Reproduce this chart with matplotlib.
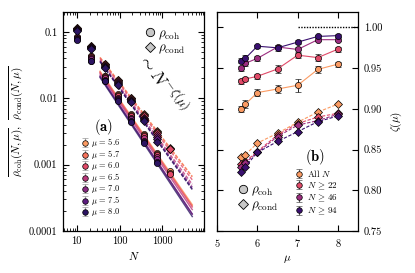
import numpy as np
import matplotlib
matplotlib.use("Agg")
import matplotlib.pyplot as plt
from matplotlib.lines import Line2D
from matplotlib.ticker import FixedLocator, NullFormatter, LogLocator

plt.rcParams['font.family'] = 'serif'
plt.rcParams['font.serif'] = ['cmr10', 'DejaVu Serif']
plt.rcParams['mathtext.fontset'] = 'cm'
plt.rcParams['axes.unicode_minus'] = False
plt.rcParams['axes.formatter.use_mathtext'] = True

# ---------------- data ----------------
mus = [5.6, 5.7, 6.0, 6.5, 7.0, 7.5, 8.0]
mu_labels = [r'$\mu\,=\,5.6$', r'$\mu\,=\,5.7$', r'$\mu\,=\,6.0$', r'$\mu\,=\,6.5$',
             r'$\mu\,=\,7.0$', r'$\mu\,=\,7.5$', r'$\mu\,=\,8.0$']
mu_colors = ['#fb9b63', '#f6735c', '#e04a68', '#b8377a', '#8a2a82', '#5c1c7e', '#2c1462']
Ns = [10, 22, 46, 94, 190, 382, 766, 1534]

coh = [
    [0.085, 0.044, 0.022, 0.0115, 0.0058, 0.0029, 0.0015, 0.00079],
    [0.084, 0.043, 0.0215, 0.0112, 0.0056, 0.0028, 0.00145, 0.00076],
    [0.083, 0.042, 0.021, 0.0108, 0.0054, 0.0027, 0.0014, 0.00073],
    [0.081, 0.040, 0.020, 0.0102, 0.0051, 0.0025, 0.0013],
    [0.079, 0.039, 0.019, 0.0097, 0.0048, 0.0023, 0.0012],
    [0.078, 0.037, 0.0185, 0.0093, 0.0046, 0.0022, 0.0011],
    [0.076, 0.036, 0.018, 0.0090, 0.0044, 0.0021, 0.00107],
]
cond = [
    [0.115, 0.062, 0.033, 0.019, 0.0102, 0.0057, 0.0032, 0.0018],
    [0.114, 0.061, 0.0325, 0.0187, 0.0100, 0.0056, 0.0031, 0.00175],
    [0.112, 0.060, 0.032, 0.0183, 0.0098, 0.0054, 0.0030, 0.0017],
    [0.110, 0.059, 0.031, 0.0178, 0.0095, 0.0051, 0.0028],
    [0.108, 0.058, 0.030, 0.0172, 0.0092, 0.0049, 0.0026],
    [0.106, 0.057, 0.0295, 0.0166, 0.0090, 0.0047, 0.0024],
    [0.105, 0.056, 0.029, 0.016, 0.0088, 0.0045, 0.0022],
]
rel_err = 0.06

# fit parameters for power-law guides in panel (a)
coh_fit_amp = [0.71, 0.70, 0.69, 0.68, 0.67, 0.66, 0.655]
coh_fit_exp = [0.934, 0.937, 0.940, 0.949, 0.966, 0.963, 0.973]
cond_fit_amp = [0.80, 0.80, 0.81, 0.82, 0.84, 0.85, 0.86]
cond_fit_exp = [0.8325, 0.835, 0.848, 0.868, 0.882, 0.890, 0.895]
fit_N_range = [35, 5000]

# panel (b)
set_labels = [r'All $N$', r'$N\,\geq\,22$', r'$N\,\geq\,46$', r'$N\,\geq\,94$']
set_colors = ['#fb9b63', '#e04a68', '#9c2e80', '#3a1070']
zeta_coh = [
    [0.900, 0.9056, 0.920, 0.9244, 0.929, 0.9485, 0.955],
    [0.934, 0.9367, 0.940, 0.949, 0.966, 0.963, 0.9734],
    [0.950, 0.956, 0.962, 0.976, 0.973, 0.985, 0.985],
    [0.959, 0.962, 0.977, 0.975, 0.982, 0.989, 0.990],
]
zeta_coh_err = [
    [0.004, 0.005, 0.004, 0.005, 0.008, 0.004, 0.003],
    [0.003, 0.003, 0.003, 0.005, 0.003, 0.004, 0.003],
    [0.003, 0.003, 0.003, 0.003, 0.003, 0.002, 0.002],
    [0.003, 0.004, 0.002, 0.004, 0.002, 0.002, 0.002],
]
zeta_cond = [
    [0.8407, 0.8435, 0.858, 0.870, 0.8836, 0.896, 0.906],
    [0.8325, 0.8353, 0.8476, 0.868, 0.882, 0.890, 0.8946],
    [0.829, 0.8337, 0.8464, 0.866, 0.880, 0.8856, 0.8935],
    [0.823, 0.829, 0.8464, 0.860, 0.872, 0.8843, 0.8913],
]
zeta_cond_err = [0.002, 0.002, 0.002, 0.002, 0.002, 0.002, 0.002]

# ---------------- figure ----------------
fig = plt.figure(figsize=(4.15, 2.73), dpi=100)
axa = fig.add_axes([0.152, 0.154, 0.340, 0.802])
axb = fig.add_axes([0.523, 0.154, 0.340, 0.802])

ms = 4.4
# panel (a)
Nfit = np.logspace(np.log10(fit_N_range[0]), np.log10(fit_N_range[1]), 50)
for i, mu in enumerate(mus):
    c = mu_colors[i]
    axa.plot(Nfit, cond_fit_amp[i] * Nfit ** (-cond_fit_exp[i]), ls=(0, (2.5, 1.2)),
             color=c, lw=1.0, alpha=0.8, zorder=1)
    axa.plot(Nfit, coh_fit_amp[i] * Nfit ** (-coh_fit_exp[i]), ls='-',
             color=c, lw=1.0, alpha=0.8, zorder=1)
for i, mu in enumerate(mus):
    c = mu_colors[i]
    n = len(coh[i])
    x = np.array(Ns[:n])
    yc = np.array(coh[i]); yd = np.array(cond[i])
    axa.errorbar(x, yd, yerr=rel_err * yd, fmt='D', ms=ms, mfc=c, mec='black', mew=0.5,
                 ecolor='#333333', elinewidth=0.6, capsize=1.5, zorder=3)
    axa.errorbar(x, yc, yerr=rel_err * yc, fmt='o', ms=ms, mfc=c, mec='black', mew=0.5,
                 ecolor='#333333', elinewidth=0.6, capsize=1.5, zorder=3)

axa.set_xscale('log'); axa.set_yscale('log')
axa.set_xlim(4.8, 9500)
axa.set_ylim(1e-4, 0.2)
axa.xaxis.set_major_locator(FixedLocator([10, 100, 1000]))
axa.set_xticklabels(['10', '100', '1000'])
axa.xaxis.set_minor_locator(LogLocator(base=10, subs=np.arange(2, 10), numticks=20))
axa.xaxis.set_minor_formatter(NullFormatter())
axa.yaxis.set_major_locator(FixedLocator([1e-4, 1e-3, 1e-2, 1e-1]))
axa.set_yticklabels(['0.0001', '0.001', '0.01', '0.1'])
axa.yaxis.set_minor_locator(LogLocator(base=10, subs=np.arange(2, 10), numticks=20))
axa.yaxis.set_minor_formatter(NullFormatter())
axa.tick_params(which='both', direction='in', top=True, right=True, labelsize=7.5, pad=4)
axa.tick_params(which='major', length=4, width=0.8)
axa.tick_params(which='minor', length=2, width=0.6)
axa.set_xlabel(r'$N$', fontsize=8, labelpad=3)
axa.set_ylabel(r'$\overline{\rho_{\rm coh}(N,\mu)}$,  $\overline{\rho_{\rm cond}(N,\mu)}$',
               fontsize=8, labelpad=3)
axa.text(0.285, 0.475, r'$\mathbf{(a)}$', transform=axa.transAxes, fontsize=10.5,
         ha='center', va='center')
axa.text(0.715, 0.68, r'$\sim N^{-\zeta(\mu)}$', transform=axa.transAxes, fontsize=13,
         ha='center', va='center', rotation=-55)

# mu legend (proxy errorbars)
handles = []
for i in range(len(mus)):
    h = axa.errorbar([np.nan], [np.nan], yerr=[1], fmt='o', ms=4, mfc=mu_colors[i],
                     mec='black', mew=0.5, ecolor='#9a9a9a', elinewidth=0.8, capsize=2.5)
    handles.append(h)
leg1 = axa.legend(handles, mu_labels, loc='lower left', bbox_to_anchor=(0.1, 0.035),
                  fontsize=6.0, frameon=False, handlelength=0.6, handletextpad=0.5,
                  handleheight=0.5, labelspacing=-0.12, borderpad=0.1)
axa.add_artist(leg1)
rho_handles = [Line2D([], [], ls='none', marker='o', ms=6, mfc='#c8c8c8', mec='black', mew=0.6),
               Line2D([], [], ls='none', marker='D', ms=5.5, mfc='#c8c8c8', mec='black', mew=0.6)]
rho_labels = [r'$\rho_{\rm coh}$', r'$\rho_{\rm cond}$']
axa.legend(rho_handles, rho_labels, loc='upper right', bbox_to_anchor=(0.93, 0.97),
           fontsize=9.5, frameon=False, handlelength=0.8, handletextpad=0.2,
           labelspacing=0.05, borderpad=0.2)

# panel (b)
for j in range(len(set_labels)):
    c = set_colors[j]
    axb.errorbar(mus, zeta_cond[j], yerr=zeta_cond_err, fmt='D', ls=(0, (3, 1.5)), lw=0.8,
                 color=c, ms=ms, mfc=c, mec='black', mew=0.5, ecolor='#333333',
                 elinewidth=0.6, capsize=1.5, zorder=3)
for j in range(len(set_labels)):
    c = set_colors[j]
    axb.errorbar(mus, zeta_coh[j], yerr=zeta_coh_err[j], fmt='o', ls='-', lw=0.8,
                 color=c, ms=ms, mfc=c, mec='black', mew=0.5, ecolor='#222222',
                 elinewidth=0.7, capsize=2.5, zorder=3)
axb.plot([7.0, 8.5], [1.0, 1.0], ls=(0, (1, 1)), color='black', lw=1.0)
axb.set_xlim(5, 8.5)
axb.set_ylim(0.75, 1.019)
axb.set_xticks([5, 6, 7, 8])
axb.set_yticks([0.75, 0.80, 0.85, 0.90, 0.95, 1.00])
axb.set_yticklabels(['0.75', '0.80', '0.85', '0.90', '0.95', '1.00'])
axb.yaxis.tick_right()
axb.yaxis.set_label_position('right')
axb.tick_params(which='both', direction='in', top=True, left=True, right=True,
                labelsize=7.5, length=4, width=0.8, pad=4)
axb.set_xlabel(r'$\mu$', fontsize=8, labelpad=3)
axb.set_ylabel(r'$\zeta(\mu)$', fontsize=8, labelpad=5, rotation=90)
axb.text(0.695, 0.34, r'$\mathbf{(b)}$', transform=axb.transAxes, fontsize=10.5,
         ha='center', va='center')

sh = []
for j in range(len(set_labels)):
    h = axb.errorbar([np.nan], [np.nan], yerr=[1], fmt='o', ms=4, mfc=set_colors[j],
                     mec='black', mew=0.5, ecolor='#555555', elinewidth=0.8, capsize=2.5)
    sh.append(h)
leg2 = axb.legend(sh, set_labels, loc='lower left', bbox_to_anchor=(0.52, 0.035),
                  fontsize=6.5, frameon=False, handlelength=0.6, handletextpad=0.5,
                  labelspacing=0.15, borderpad=0.2)
axb.add_artist(leg2)
axb.legend(rho_handles, rho_labels, loc='lower left', bbox_to_anchor=(0.08, 0.04),
           fontsize=9.5, frameon=False, handlelength=0.8, handletextpad=0.2,
           labelspacing=0.05, borderpad=0.2)

for ax in (axa, axb):
    for s in ax.spines.values():
        s.set_linewidth(0.9)

fig.savefig('out.png', dpi=100)
